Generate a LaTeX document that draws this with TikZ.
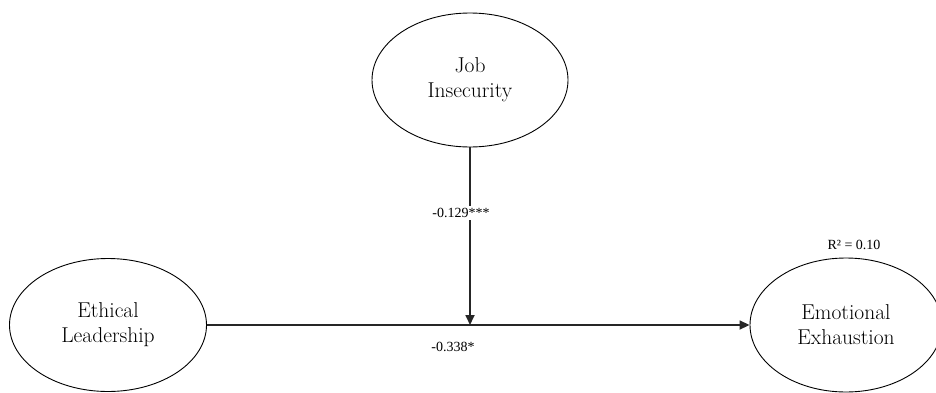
\documentclass[tikz,border=0pt]{standalone}
\usepackage{fontspec}
\usepackage{tikz}
\usetikzlibrary{shapes.geometric,arrows.meta}
\newfontfamily\coeffont{Liberation Serif}

\begin{document}
\begin{tikzpicture}[x=1pt, y=1pt,
			construct/.style={ellipse, draw=black, line width=0.9pt, inner sep=0pt, minimum width=196pt, minimum height=134pt, align=center, font=\fontsize{21.5}{25}\selectfont},
			path/.style={line width=1.7pt, black!85, -{Triangle[length=10pt, width=9pt]}},
			coef/.style={font=\coeffont\fontsize{14}{16}\selectfont, inner sep=2pt}
		]
		\useasboundingbox (0,0) rectangle (936,392);

		% Constructs
		\node[construct] (ji) at (470,312) {Job\\Insecurity};
		\node[construct, minimum width=197pt, minimum height=133pt] (el) at (108,67) {Ethical\\Leadership};
		\node[construct, minimum width=192pt] (ee) at (846,67) {Emotional\\Exhaustion};

		% Paths
		\coordinate (mod) at (ji.south |- el.east);
		\draw[path] (el.east) -- (ee.west);
		\draw[path] (ji.south) -- (mod);

		% Coefficients
		\node[coef, fill=white] (b1) at (461,179) {-0.129***};
		\node[coef] (b2) at (453,45) {-0.338*};
		\node[coef] (r2) at (854,147) {R² = 0.10};

	\end{tikzpicture}
\end{document}
